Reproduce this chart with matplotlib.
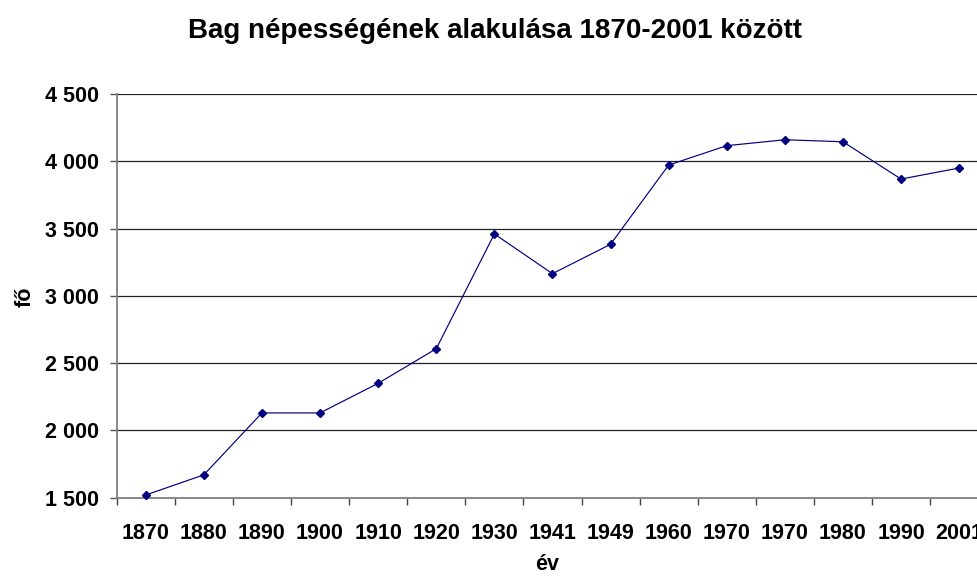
import matplotlib
matplotlib.use("Agg")
import matplotlib.pyplot as plt
from matplotlib.ticker import FixedLocator, FuncFormatter
import numpy as np

plt.rcParams['font.family'] = ['Liberation Sans', 'DejaVu Sans']

categories = ["1870", "1880", "1890", "1900", "1910", "1920", "1930", "1941",
              "1949", "1960", "1970", "1970", "1980", "1990", "2001"]
population = [1520, 1670, 2130, 2130, 2350, 2607, 3460, 3165,
              3383, 3972, 4116, 4160, 4145, 3868, 3950]
yticks = [1500, 2000, 2500, 3000, 3500, 4000, 4500]

fig = plt.figure(figsize=(9.77, 5.79), dpi=100)
ax = fig.add_axes([116.7/977, 1-497.7/579, 871.5/977, 403.7/579])

x = np.arange(len(categories))
ax.plot(x, population, color='#000080', linewidth=0.85, marker='D',
        markersize=4.2, markerfacecolor='#000080', markeredgecolor='#000080',
        zorder=3, clip_on=False)

ax.set_xlim(-0.5, len(categories) - 0.5)
ax.set_ylim(1500, 4500)

ax.set_yticks(yticks)
ax.yaxis.set_major_formatter(FuncFormatter(lambda v, p: f"{int(v):,}".replace(",", " ")))
ax.grid(axis='y', color='#222222', linewidth=0.9, zorder=1)

ax.set_xticks(x)
ax.set_xticklabels(categories)
ax.xaxis.set_minor_locator(FixedLocator(np.arange(-0.5, len(categories), 1.0)))
ax.tick_params(axis='x', which='major', length=0, pad=18.5, labelsize=15.5)
ax.tick_params(axis='x', which='minor', length=5, width=1, color='#444444', direction='out')
ax.tick_params(axis='y', which='major', length=5, width=1, color='#555555', pad=8,
               labelsize=15.5)
for lab in ax.get_xticklabels() + ax.get_yticklabels():
    lab.set_fontweight('bold')

for s in ['top', 'right']:
    ax.spines[s].set_visible(False)
for s in ['left', 'bottom']:
    ax.spines[s].set_color('#808080')
    ax.spines[s].set_linewidth(1.3)

fig.text(495.5/977, 1-31/579, "Bag népességének alakulása 1870-2001 között",
         ha='center', va='center', fontsize=20, fontweight='bold')
fig.text(547/977, 1-565/579, "év", ha='center', va='center', fontsize=15.5,
         fontweight='bold')
fig.text(25/977, 1-297/579, "fő", ha='center', va='center', fontsize=15.5,
         fontweight='bold', rotation=90)

fig.savefig("out.png", dpi=100)
